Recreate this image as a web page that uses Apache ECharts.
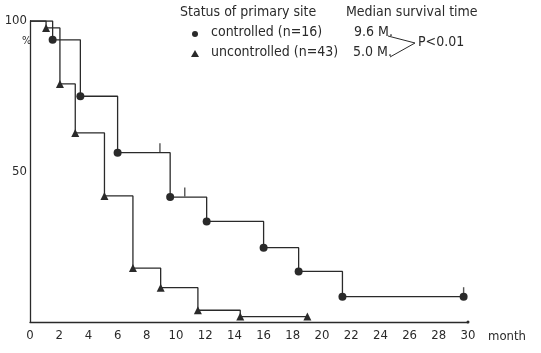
<!DOCTYPE html>
<html>
<head>
<meta charset="utf-8">
<script src="https://cdn.jsdelivr.net/npm/echarts@6/dist/echarts.min.js"></script>
<style>
html,body{margin:0;padding:0;background:#fff;}
#c{width:541px;height:353px;}
</style>
</head>
<body>
<div id="c"></div>
<script>
// Controlled primary site (n=16): time (months) and survival (%)
var ctrlMonths = [0, 1.55, 3.45, 6.0, 9.6, 12.1, 16.0, 18.4, 21.4, 29.7];
var ctrlSurv   = [100, 93.75, 75, 56.25, 41.5, 33.4, 24.7, 16.8, 8.4, 8.4];
var ctrlCensorMonths = [8.9, 10.6, 29.7];
var ctrlCensorSurv   = [56.25, 41.5, 8.4];

// Uncontrolled primary site (n=43)
var uncMonths = [0, 1.1, 2.05, 3.1, 5.1, 7.05, 8.95, 11.5, 14.4, 19.0];
var uncSurv   = [100, 97.7, 79.1, 62.8, 41.9, 17.9, 11.4, 3.9, 1.8, 1.8];

var xTicks = [0, 2, 4, 6, 8, 10, 12, 14, 16, 18, 20, 22, 24, 26, 28, 30];
var yTicks = [50, 100];

var FONT = '"DejaVu Sans Condensed", "Liberation Sans Narrow", "Roboto Condensed", "DejaVu Sans", sans-serif';
var INK = '#2a2a2a';

function build(months, surv) {
  return months.map(function (m, i) {
    var item = { value: [m, surv[i]] };
    if (i === 0) item.symbol = 'none';
    return item;
  });
}

var chart = echarts.init(document.getElementById('c'), null, { renderer: 'canvas' });
chart.setOption({
  backgroundColor: '#fff',
  animation: false,
  grid: { left: 30, right: 73, top: 21, bottom: 31 },
  xAxis: {
    type: 'value', min: 0, max: 30, interval: 2,
    axisLine: { show: true, lineStyle: { color: INK, width: 1.3 }, symbol: ['none', 'circle'], symbolSize: [3, 3] },
    axisTick: { show: false },
    splitLine: { show: false },
    axisLabel: {
      color: INK, fontSize: 13, fontFamily: FONT, margin: 7,
      formatter: function (v) { return xTicks.indexOf(v) >= 0 ? String(v) : ''; }
    }
  },
  yAxis: {
    type: 'value', min: 0, max: 100, interval: 50,
    axisLine: { show: true, lineStyle: { color: INK, width: 1.3 } },
    axisTick: { show: false },
    splitLine: { show: false },
    axisLabel: {
      color: INK, fontSize: 13, fontFamily: FONT, margin: 3,
      formatter: function (v) { return yTicks.indexOf(v) >= 0 ? String(v) : ''; }
    }
  },
  series: [
    {
      name: 'controlled', type: 'line', step: 'end',
      data: build(ctrlMonths, ctrlSurv),
      symbol: 'circle', symbolSize: 8, showAllSymbol: true,
      lineStyle: { color: INK, width: 1.3 },
      itemStyle: { color: INK }
    },
    {
      name: 'uncontrolled', type: 'line', step: 'end',
      data: build(uncMonths, uncSurv),
      symbol: 'triangle', symbolSize: 8, showAllSymbol: true,
      lineStyle: { color: INK, width: 1.3 },
      itemStyle: { color: INK }
    },
    {
      name: 'censored', type: 'scatter',
      data: ctrlCensorMonths.map(function (m, i) { return [m, ctrlCensorSurv[i]]; }),
      symbol: 'rect', symbolSize: [1.4, 9], symbolOffset: [0, -5],
      itemStyle: { color: INK }
    }
  ],
  graphic: [
    { type: 'text', left: 22, top: 36, style: { text: '%', fill: INK, font: '11px ' + FONT } },
    { type: 'text', left: 180, top: 5, style: { text: 'Status of primary site', fill: INK, font: '14px ' + FONT } },
    { type: 'text', left: 346, top: 5, style: { text: 'Median survival time', fill: INK, font: '14px ' + FONT } },
    { type: 'circle', shape: { cx: 195, cy: 34, r: 3 }, style: { fill: INK } },
    { type: 'polygon', shape: { points: [[195, 50], [199, 57], [191, 57]] }, style: { fill: INK } },
    { type: 'text', left: 211, top: 25, style: { text: 'controlled (n=16)', fill: INK, font: '14px ' + FONT } },
    { type: 'text', left: 211, top: 45, style: { text: 'uncontrolled (n=43)', fill: INK, font: '14px ' + FONT } },
    { type: 'text', left: 354, top: 25, style: { text: '9.6 M.', fill: INK, font: '14px ' + FONT } },
    { type: 'text', left: 353, top: 45, style: { text: '5.0 M.', fill: INK, font: '14px ' + FONT } },
    { type: 'polyline', shape: { points: [[388, 36], [415, 43], [390, 57]] }, style: { stroke: INK, lineWidth: 1, fill: null } },
    { type: 'text', left: 418, top: 35, style: { text: 'P<0.01', fill: INK, font: '14px ' + FONT } },
    { type: 'text', left: 488, top: 330, style: { text: 'month', fill: INK, font: '13px ' + FONT } }
  ]
});
</script>
</body>
</html>
